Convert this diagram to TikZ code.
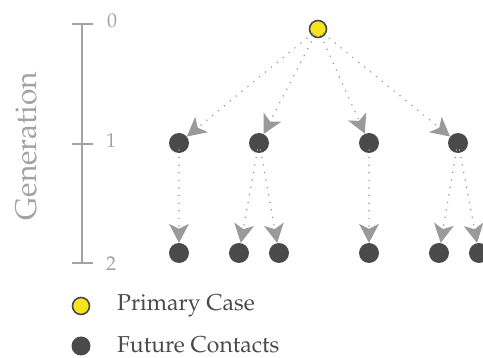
\documentclass[tikz,border=0pt]{standalone}
\usepackage[T1]{fontenc}
\usepackage{mathpazo}
\usetikzlibrary{arrows.meta,calc}

\definecolor{axisgrey}{HTML}{A3A3A3}
\definecolor{edgegrey}{HTML}{9A9A9A}
\definecolor{nodedark}{HTML}{4A4A4A}
\definecolor{caseyellow}{HTML}{F7E41E}
\definecolor{textdark}{HTML}{4A4A4A}

\tikzset{
  contact/.style={circle, fill=nodedark, draw=none, minimum size=20pt, inner sep=0pt},
  primary/.style={circle, fill=caseyellow, draw=nodedark, line width=1.6pt, minimum size=17pt, inner sep=0pt},
  spread/.style={draw=edgegrey, line width=1.7pt, line cap=round, dash pattern=on 0pt off 7.6pt,
    -{Stealth[length=19pt, width=20pt, inset=5pt, fill=edgegrey, line width=0pt]}},
  axisline/.style={draw=axisgrey, line width=1.8pt},
  ticklabel/.style={text=axisgrey, font=\fontsize{20}{24}\selectfont, inner sep=0pt},
  legendtext/.style={text=textdark, font=\fontsize{23}{27}\selectfont, inner sep=0pt, anchor=base west},
}

\begin{document}
\begin{tikzpicture}[x=1pt, y=-1pt]
  \useasboundingbox (0,0) rectangle (483,358);

  % generation axis
  \coordinate (ax0) at (82,24);
  \coordinate (ax2) at (82,263);
  \draw[axisline] (ax0) -- (ax2);
  \draw[axisline] (72,24) -- (93,24);
  \draw[axisline] (72,144) -- (93,144);
  \draw[axisline] (72,263) -- (93,263);
  \node[ticklabel] (t0) at (112,21) {0};
  \node[ticklabel] (t1) at (111,141) {1};
  \node[ticklabel] (t2) at (111,264) {2};
  \node[text=axisgrey, font=\fontsize{30}{36}\selectfont, rotate=90, anchor=base, inner sep=0pt]
    (genlabel) at (36,146) {Generation};

  % transmission tree
  \node[primary] (p) at (318,29) {};

  \node[contact] (a) at (179,143) {};
  \node[contact] (b) at (259,143) {};
  \node[contact] (c) at (369,143) {};
  \node[contact] (d) at (458,143) {};

  \node[contact] (a1) at (179,253) {};
  \node[contact] (b1) at (239,253) {};
  \node[contact] (b2) at (279,253) {};
  \node[contact] (c1) at (369,253) {};
  \node[contact] (d1) at (439,253) {};
  \node[contact] (d2) at (479,253) {};

  % first generation: dotted lines leave from just below the primary case's centre
  \foreach \t in {a,b,c,d}
    \draw[spread] ($(p)!7pt!(\t)$) -- (\t);

  % second generation
  \draw[spread] ([yshift=-7pt]a.center) -- (a1);
  \draw[spread] ([shift={(-1.5pt,-7pt)}]b.center) -- (b1);
  \draw[spread] ([shift={(1.5pt,-7pt)}]b.center)  -- (b2);
  \draw[spread] ([yshift=-7pt]c.center) -- (c1);
  \draw[spread] ([shift={(-1.5pt,-7pt)}]d.center) -- (d1);
  \draw[spread] ([shift={(1.5pt,-7pt)}]d.center)  -- (d2);

  % legend
  \node[primary] (lp) at (81,306) {};
  \node[contact, minimum size=19pt] (lc) at (81,346) {};
  \node[legendtext] (lptext) at (117,311) {Primary Case};
  \node[legendtext] (lctext) at (117,353) {Future Contacts};
\end{tikzpicture}
\end{document}
